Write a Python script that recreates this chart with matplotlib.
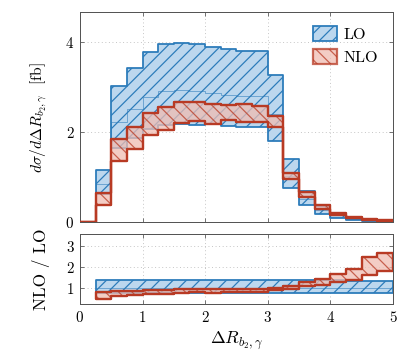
import numpy as np
import matplotlib

matplotlib.use("Agg")
import matplotlib.pyplot as plt

# bin edges in Delta R (first bin is empty)
edges = np.arange(0.0, 5.0001, 0.25)

lo_c = [0.0, 0.85, 2.21, 2.51, 2.78, 2.90, 2.93, 2.90, 2.86, 2.82, 2.79, 2.79,
        2.40, 1.02, 0.52, 0.26, 0.12, 0.06, 0.03, 0.015]
lo_up = [0.0, 1.15, 3.01, 3.41, 3.78, 3.95, 3.98, 3.95, 3.89, 3.84, 3.80, 3.79,
         3.26, 1.39, 0.70, 0.35, 0.165, 0.08, 0.04, 0.02]
lo_dn = [0.0, 0.63, 1.64, 1.86, 2.06, 2.15, 2.17, 2.15, 2.17, 2.13, 2.11, 2.11,
         1.80, 0.76, 0.38, 0.19, 0.09, 0.045, 0.022, 0.011]
nlo_up = [0.0, 0.65, 1.85, 2.12, 2.42, 2.56, 2.67, 2.66, 2.63, 2.59, 2.62, 2.58,
          2.35, 1.10, 0.66, 0.37, 0.20, 0.115, 0.075, 0.04]
nlo_dn = [0.0, 0.39, 1.36, 1.63, 1.93, 2.05, 2.20, 2.24, 2.18, 2.26, 2.22, 2.22,
          2.10, 0.95, 0.55, 0.29, 0.155, 0.082, 0.048, 0.027]

BLUE = "#2b7bba"
BLUE_FILL = "#bcd7ee"
RED = "#b83a24"
RED_FILL = "#f0bdb2"

plt.rcParams["font.family"] = "cmr10"
plt.rcParams["mathtext.fontset"] = "cm"
plt.rcParams["axes.unicode_minus"] = False
plt.rcParams["axes.formatter.use_mathtext"] = True
plt.rcParams["hatch.linewidth"] = 1.1


def ext(v):
    v = np.asarray(v, dtype=float)
    return np.append(v, v[-1])


def style(ax):
    ax.tick_params(direction="in", top=True, right=True, length=4,
                   color="#666666", labelsize=13.5, pad=5)
    for s in ax.spines.values():
        s.set_color("#555555")
        s.set_linewidth(0.9)
    ax.grid(True, ls=(0, (1, 3)), color="#bbbbbb", lw=0.8)
    ax.set_axisbelow(True)
    ax.set_xlim(0, 5)


fig = plt.figure(figsize=(408 / 80, 363 / 80), dpi=80)
ax = fig.add_axes([0.196, 0.388, 0.767, 0.579])
rax = fig.add_axes([0.196, 0.162, 0.767, 0.193])

# main panel
ax.fill_between(edges, ext(lo_dn), ext(lo_up), step="post", facecolor=BLUE_FILL,
                edgecolor=BLUE, hatch="//", lw=1.6, label="LO", zorder=2)
ax.step(edges, ext(lo_c), where="post", color=BLUE, lw=0.8, alpha=0.6, zorder=2)
ax.fill_between(edges, ext(nlo_dn), ext(nlo_up), step="post", facecolor=RED_FILL,
                edgecolor=RED, hatch="\\\\", lw=2.0, alpha=0.75, label="NLO", zorder=3)
ax.fill_between(edges, ext(nlo_dn), ext(nlo_up), step="post", facecolor="none",
                edgecolor=RED, lw=2.0, zorder=4)
style(ax)
ax.set_ylim(0, 4.66)
ax.set_yticks([0, 2, 4])
ax.set_xticks(range(6))
ax.tick_params(labelbottom=False)
ax.set_ylabel(r"$d\sigma/d\Delta R_{b_2,\gamma}$  [fb]", fontsize=14)
ax.yaxis.set_label_coords(-0.1, 0.5)
leg = ax.legend(loc="upper right", frameon=False, fontsize=14.5, handlelength=1.5,
                handleheight=1.0, handletextpad=0.4, borderaxespad=0.5,
                labelspacing=0.45)

# ratio panel
r_edges = edges[1:]
lo_ref = np.asarray(lo_c[1:])
rax.fill_between(r_edges, ext(np.asarray(lo_dn[1:]) / lo_ref),
                 ext(np.asarray(lo_up[1:]) / lo_ref), step="post",
                 facecolor=BLUE_FILL, edgecolor=BLUE, hatch="//", lw=1.6, zorder=2)
rax.step(r_edges, ext(lo_ref / lo_ref), where="post", color=BLUE, lw=0.8,
         alpha=0.6, zorder=2)
rax.fill_between(r_edges, ext(np.asarray(nlo_dn[1:]) / lo_ref),
                 ext(np.asarray(nlo_up[1:]) / lo_ref), step="post",
                 facecolor=RED_FILL, edgecolor=RED, hatch="\\\\", lw=2.0,
                 alpha=0.75, zorder=3)
rax.fill_between(r_edges, ext(np.asarray(nlo_dn[1:]) / lo_ref),
                 ext(np.asarray(nlo_up[1:]) / lo_ref), step="post",
                 facecolor="none", edgecolor=RED, lw=2.0, zorder=4)
style(rax)
rax.set_ylim(0.2, 3.58)
rax.set_yticks([1, 2, 3])
rax.set_xticks(range(6))
rax.set_ylabel("NLO / LO", fontsize=15.5)
rax.yaxis.set_label_coords(-0.095, 0.5)
rax.set_xlabel(r"$\Delta R_{b_2,\gamma}$", fontsize=16)

fig.savefig("out.png", dpi=80)
